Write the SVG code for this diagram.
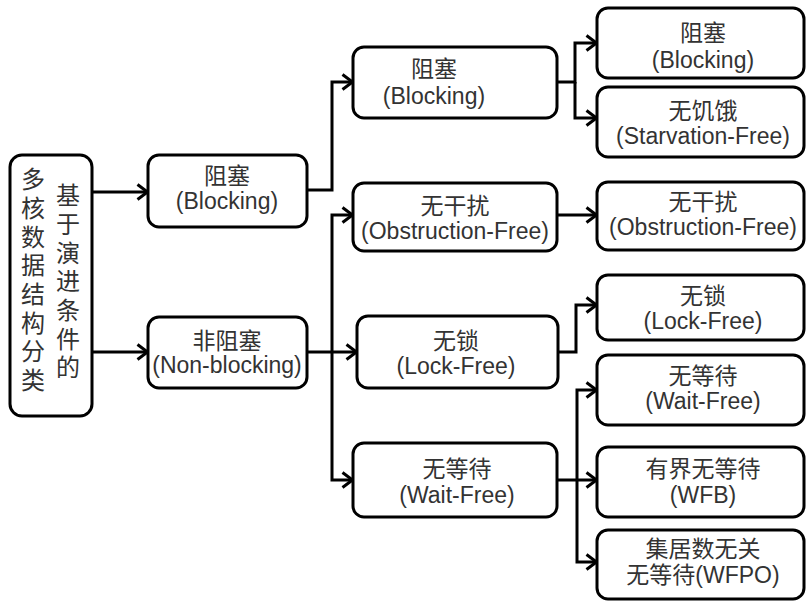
<svg xmlns="http://www.w3.org/2000/svg" width="806" height="601" viewBox="0 0 806 601">
<style>
.box{fill:#fff;stroke:#000;stroke-width:3}
.t{font-family:"Liberation Sans","Noto Sans CJK SC",sans-serif;font-size:23px;fill:#333;text-anchor:middle}
.r{font-family:"Noto Sans CJK SC",sans-serif;font-size:24px;fill:#333;writing-mode:vertical-rl;letter-spacing:4.7px}
.c{fill:none;stroke:#000;stroke-width:3}
</style>
<defs>
<marker id="ah" markerUnits="userSpaceOnUse" viewBox="0 0 14 18" refX="12.5" refY="9" markerWidth="14" markerHeight="18" orient="auto">
<path d="M2,1.5 L12,9 L2,16.5" fill="none" stroke="#000" stroke-width="3"/>
</marker>
</defs>
<g id="connectors">
<path class="c" d="M92,192 H148" marker-end="url(#ah)"/>
<path class="c" d="M92,352 H148" marker-end="url(#ah)"/>
<path class="c" d="M307,190 H332 V82 H353" marker-end="url(#ah)"/>
<path class="c" d="M307,352 H357" marker-end="url(#ah)"/>
<path class="c" d="M332,352 V215 H353" marker-end="url(#ah)"/>
<path class="c" d="M332,352 V480 H353" marker-end="url(#ah)"/>
<path class="c" d="M557,82 H575 V43 H597" marker-end="url(#ah)"/>
<path class="c" d="M575,82 V118 H597" marker-end="url(#ah)"/>
<path class="c" d="M557,215 H597" marker-end="url(#ah)"/>
<path class="c" d="M558,352 H576 V305 H597" marker-end="url(#ah)"/>
<path class="c" d="M557,480 H597" marker-end="url(#ah)"/>
<path class="c" d="M577,480 V390 H597" marker-end="url(#ah)"/>
<path class="c" d="M577,480 V562 H597" marker-end="url(#ah)"/>
</g>
<g id="root">
<rect class="box" x="10" y="155" width="82" height="261" rx="12"/>
<text class="r" x="33" y="167">多核数据结构分类</text>
<text class="r" x="68" y="183">基于演进条件的</text>
</g>
<g id="blocking1">
<rect class="box" x="148" y="155" width="159" height="72" rx="11"/>
<text class="t" x="227" y="184">阻塞</text>
<text class="t" x="227" y="209">(Blocking)</text>
</g>
<g id="nonblocking">
<rect class="box" x="148" y="317" width="159" height="71" rx="11"/>
<text class="t" x="227" y="349">非阻塞</text>
<text class="t" x="227" y="373">(Non-blocking)</text>
</g>
<g id="blocking2">
<rect class="box" x="353" y="47" width="204" height="71" rx="11"/>
<text class="t" x="434" y="77">阻塞</text>
<text class="t" x="434" y="104">(Blocking)</text>
</g>
<g id="obstruction2">
<rect class="box" x="353" y="183" width="204" height="68" rx="11"/>
<text class="t" x="455" y="214">无干扰</text>
<text class="t" x="455" y="239">(Obstruction-Free)</text>
</g>
<g id="lockfree2">
<rect class="box" x="357" y="316" width="201" height="72" rx="11"/>
<text class="t" x="456" y="349">无锁</text>
<text class="t" x="456" y="374">(Lock-Free)</text>
</g>
<g id="waitfree2">
<rect class="box" x="353" y="443" width="204" height="74" rx="11"/>
<text class="t" x="457" y="477">无等待</text>
<text class="t" x="457" y="503">(Wait-Free)</text>
</g>
<g id="blocking3">
<rect class="box" x="597" y="8" width="207" height="70" rx="11"/>
<text class="t" x="703" y="41">阻塞</text>
<text class="t" x="703" y="68">(Blocking)</text>
</g>
<g id="starvation3">
<rect class="box" x="597" y="87" width="207" height="70" rx="11"/>
<text class="t" x="703" y="119">无饥饿</text>
<text class="t" x="703" y="144">(Starvation-Free)</text>
</g>
<g id="obstruction3">
<rect class="box" x="597" y="182" width="207" height="68" rx="11"/>
<text class="t" x="703" y="210">无干扰</text>
<text class="t" x="703" y="235">(Obstruction-Free)</text>
</g>
<g id="lockfree3">
<rect class="box" x="597" y="275" width="207" height="65" rx="11"/>
<text class="t" x="703" y="304">无锁</text>
<text class="t" x="703" y="329">(Lock-Free)</text>
</g>
<g id="waitfree3">
<rect class="box" x="597" y="355" width="207" height="70" rx="11"/>
<text class="t" x="703" y="384">无等待</text>
<text class="t" x="703" y="409">(Wait-Free)</text>
</g>
<g id="wfb">
<rect class="box" x="597" y="447" width="207" height="70" rx="11"/>
<text class="t" x="703" y="477">有界无等待</text>
<text class="t" x="703" y="503">(WFB)</text>
</g>
<g id="wfpo">
<rect class="box" x="597" y="530" width="207" height="69" rx="11"/>
<text class="t" x="703" y="557">集居数无关</text>
<text class="t" x="703" y="583">无等待(WFPO)</text>
</g>
</svg>
